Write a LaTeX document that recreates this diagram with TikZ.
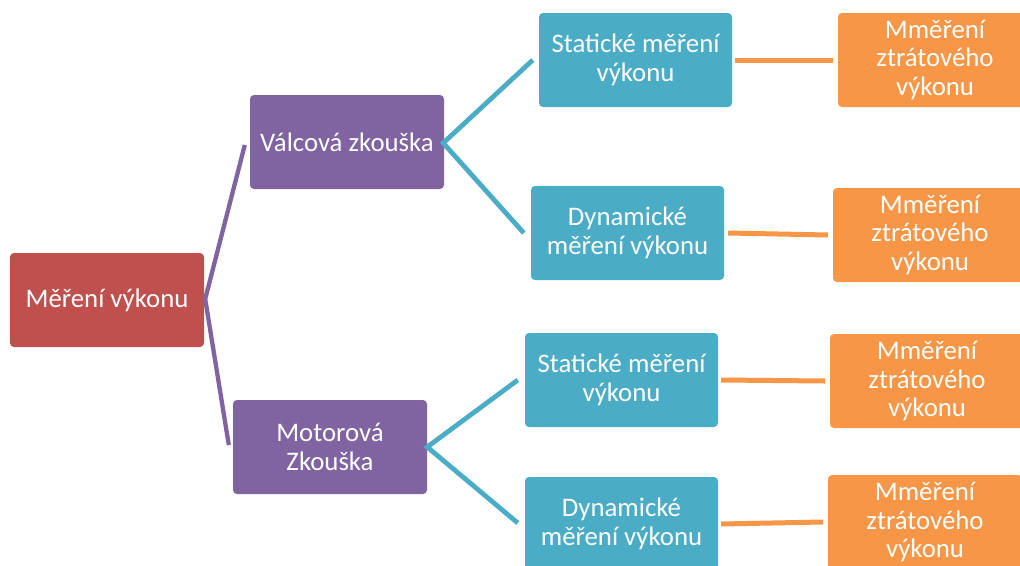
\documentclass[tikz,border=0pt]{standalone}
\usepackage{fontspec}
\setmainfont{Carlito}
\usetikzlibrary{calc}
\definecolor{cred}{HTML}{C0504D}
\definecolor{cpurple}{HTML}{8064A2}
\definecolor{cteal}{HTML}{4BACC6}
\definecolor{corange}{HTML}{F79646}
\begin{document}
\begin{tikzpicture}[x=1pt,y=-1pt,
  box/.style={rounded corners=4pt, minimum width=194pt, minimum height=94pt,
    text=white, align=center, inner sep=0pt,
    font=\fontsize{26.8}{28.5}\selectfont},
  rootbox/.style={box, fill=cred},
  midbox/.style={box, fill=cpurple},
  tealbox/.style={box, fill=cteal, minimum width=193pt},
  orangebox/.style={box, fill=corange},
  purpleline/.style={draw=cpurple, line width=4.3pt, line join=miter},
  tealline/.style={draw=cteal, line width=4.8pt, line join=miter},
  orangeline/.style={draw=corange, line width=5pt}]
\useasboundingbox (0,0) rectangle (1020,565);
\node[rootbox] (root) at (107,300) {Měření výkonu};
\node[midbox] (valc) at (347,142) {Válcová zkouška};
\node[midbox] (motor) at (330,447) {Motorová\\Zkouška};
\node[tealbox] (s1) at (635.5,60) {Statické měření\\výkonu};
\node[tealbox] (d1) at (627.5,233) {Dynamické\\měření výkonu};
\node[tealbox] (s2) at (621.5,380) {Statické měření\\výkonu};
\node[tealbox] (d2) at (621.5,524) {Dynamické\\měření výkonu};
\node[orangebox] (o1) at (935,60) {Mměření\\ztrátového\\výkonu};
\node[orangebox] (o2) at (930,235) {Mměření\\ztrátového\\výkonu};
\node[orangebox] (o3) at (927,381) {Mměření\\ztrátového\\výkonu};
\node[orangebox] (o4) at (925,522) {Mměření\\ztrátového\\výkonu};
% purple bracket
\draw[purpleline] ($(valc.west)+(-5,3)$) -- ($(root.east)+(1,-1)$) -- ($(motor.west)+(-4,-2)$);
% teal brackets
\draw[tealline] ($(s1.west)+(-6,0)$) -- ($(valc.east)+(-1,1)$) -- ($(d1.west)+(-7,0)$);
\draw[tealline] ($(s2.west)+(-7,0)$) -- ($(motor.east)+(0,0)$) -- ($(d2.west)+(-7,-1)$);
% orange links
\draw[orangeline] ($(s1.east)+(3,0)$) -- ($(o1.west)+(-5,0)$);
\draw[orangeline] ($(d1.east)+(4,0)$) -- ($(o2.west)+(-5,0)$);
\draw[orangeline] ($(s2.east)+(3,0)$) -- ($(o3.west)+(-5,0)$);
\draw[orangeline] ($(d2.east)+(3,0)$) -- ($(o4.west)+(-5,0)$);
\end{tikzpicture}
\end{document}
